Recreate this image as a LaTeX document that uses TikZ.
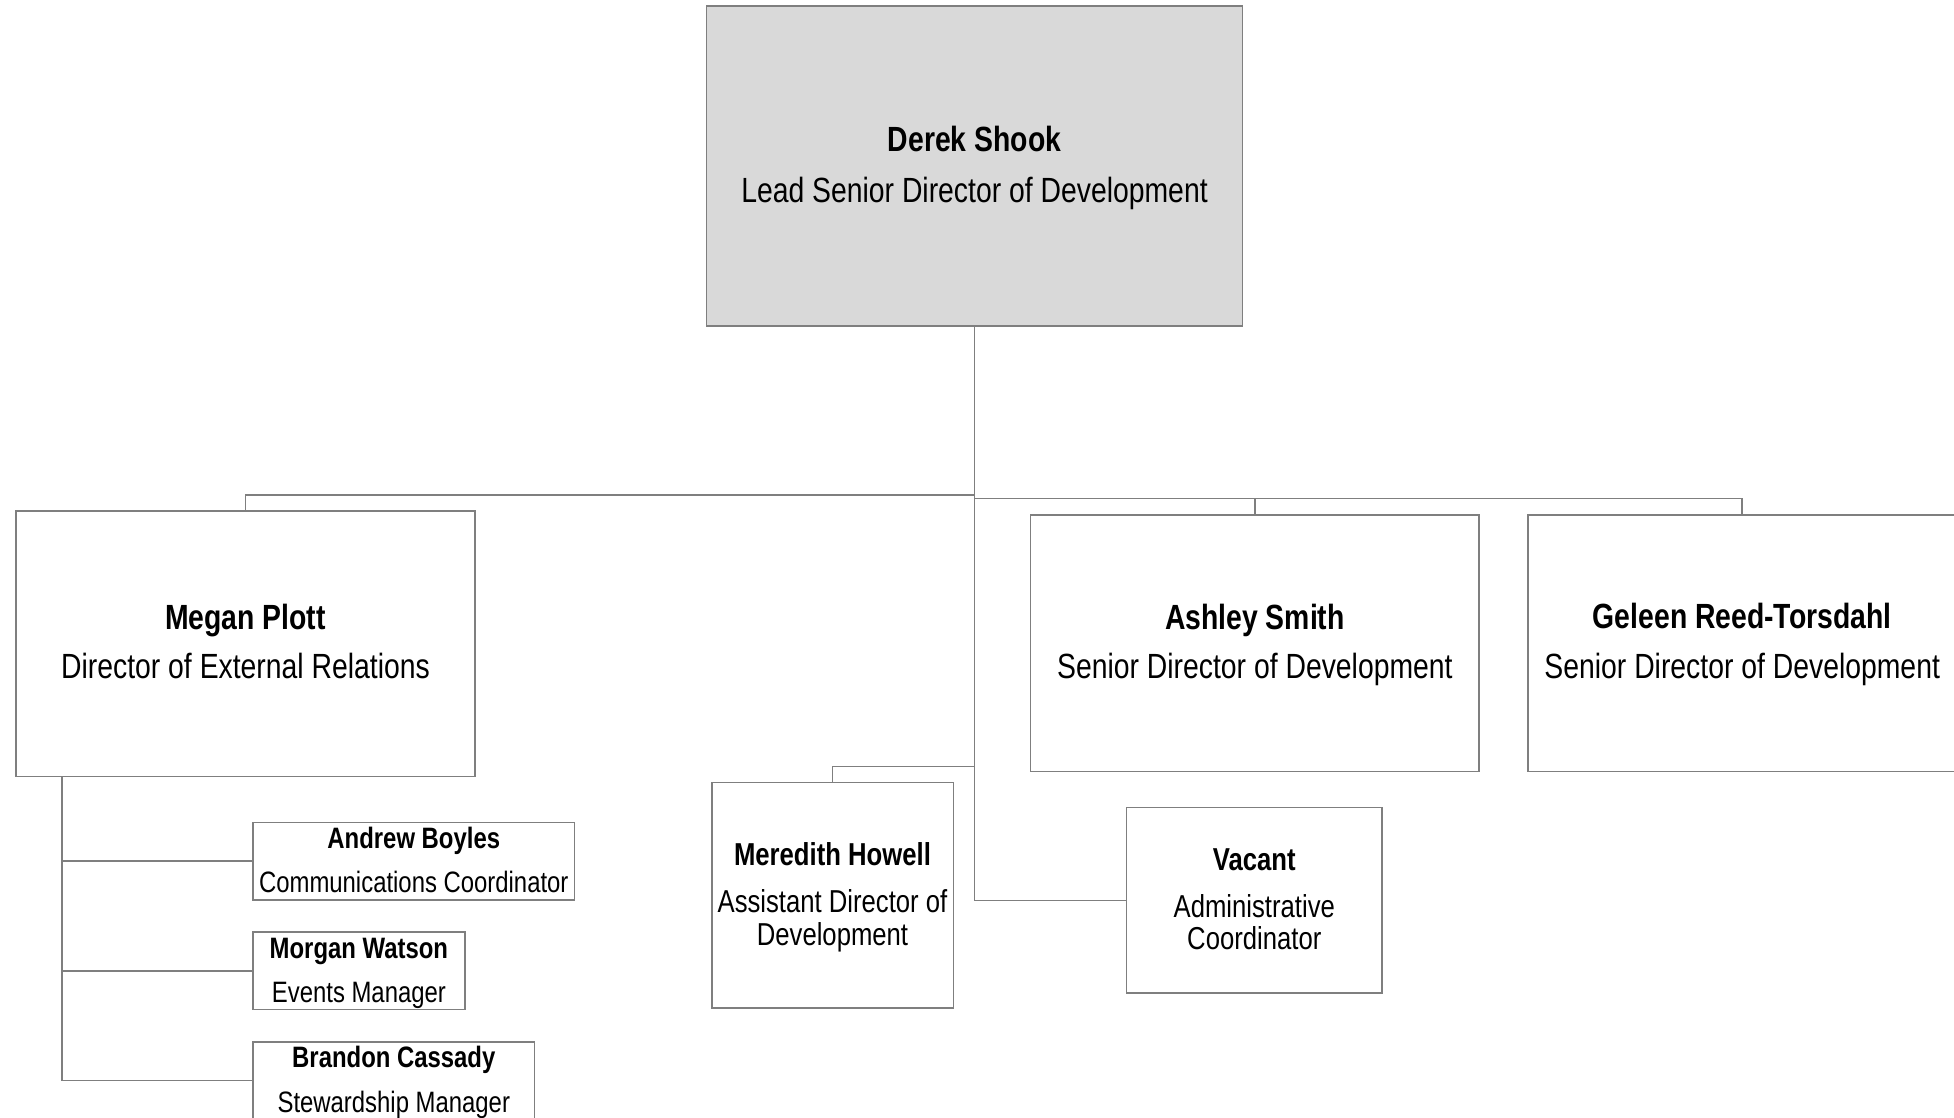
\documentclass[tikz,border=0pt]{standalone}
\usepackage{fontspec}
\setmainfont{Liberation Sans}[FakeStretch=0.81]
\begin{document}
\begin{tikzpicture}[x=1bp,y=-1bp,
  box/.style={draw=boxgray,line width=1.7bp,fill=white,inner sep=0pt},
  conn/.style={draw=boxgray,line width=1.7bp},
  big/.style={font=\fontsize{35bp}{40bp}\selectfont,anchor=base,inner sep=0pt},
  mid/.style={font=\fontsize{31.7bp}{36bp}\selectfont,anchor=base,inner sep=0pt},
  small/.style={font=\fontsize{29.5bp}{34bp}\selectfont,anchor=base,inner sep=0pt}]
\definecolor{boxgray}{HTML}{7F7F7F}
\definecolor{topfill}{HTML}{D9D9D9}
\useasboundingbox (0,0) rectangle (1954,1117);
% boxes
\node[box,fill=topfill,minimum width=536bp,minimum height=320bp] (derek) at (974.5,166.3) {};
\node[box,minimum width=458.6bp,minimum height=265.4bp] (megan) at (245.5,643.7) {};
\node[box,minimum width=448.6bp,minimum height=256.7bp] (ashley) at (1254.9,643) {};
\node[box,minimum width=428.6bp,minimum height=256.7bp] (geleen) at (1742.2,643) {};
\node[box,minimum width=321.5bp,minimum height=77.3bp] (andrew) at (413.8,861.2) {};
\node[box,minimum width=211.8bp,minimum height=77.2bp] (morgan) at (358.9,970.8) {};
\node[box,minimum width=281.6bp,minimum height=77.3bp] (brandon) at (393.8,1080.5) {};
\node[box,minimum width=241.7bp,minimum height=225.6bp] (meredith) at (832.5,895.4) {};
\node[box,minimum width=255.4bp,minimum height=185.7bp] (vacant) at (1254.3,900.4) {};
% connectors
\draw[conn] (derek.south) -- (derek.south |- vacant.west) -- (vacant.west);
\draw[conn] (derek.south |- 0,494.7) -| (megan.north);
\draw[conn] (derek.south |- 0,498.5) -| (geleen.north);
\draw[conn] (ashley.north |- 0,498.5) -- (ashley.north);
\draw[conn] (derek.south |- 0,766.4) -| (meredith.north);
\coordinate (spine) at (62.3,776.4);
\draw[conn] (megan.south -| spine) -- (brandon.west -| spine) -- (brandon.west);
\draw[conn] (andrew.west -| spine) -- (andrew.west);
\draw[conn] (morgan.west -| spine) -- (morgan.west);
% texts
\node[big] (derek-n) at (974.5,151.5) {\bfseries Derek Shook};
\node[big] (derek-t) at (974.5,202.3) {Lead Senior Director of Development};
\node[big] (megan-n) at (245.5,629.5) {\bfseries Megan Plott};
\node[big] (megan-t) at (245.5,678.5) {Director of External Relations};
\node[big] (ashley-n) at (1254.9,629.5) {\bfseries Ashley Smith};
\node[big] (ashley-t) at (1254.9,678.5) {Senior Director of Development};
\node[big] (geleen-n) at (1742.2,628.5) {\bfseries Geleen Reed-Torsdahl};
\node[big] (geleen-t) at (1742.2,678.5) {Senior Director of Development};
\node[small] (andrew-n) at (413.8,848.4) {\bfseries Andrew Boyles};
\node[small] (andrew-t) at (413.8,892.5) {Communications Coordinator};
\node[small] (morgan-n) at (358.9,958) {\bfseries Morgan Watson};
\node[small] (morgan-t) at (358.9,1002.5) {Events Manager};
\node[small] (brandon-n) at (393.8,1067.7) {\bfseries Brandon Cassady};
\node[small] (brandon-t) at (393.8,1112) {Stewardship Manager};
\node[mid] (meredith-n) at (832.5,865.3) {\bfseries Meredith Howell};
\node[mid] (meredith-t1) at (832.5,912) {Assistant Director of};
\node[mid] (meredith-t2) at (832.5,945.5) {Development};
\node[mid] (vacant-n) at (1254.3,870.4) {\bfseries Vacant};
\node[mid] (vacant-t1) at (1254.3,917) {Administrative};
\node[mid] (vacant-t2) at (1254.3,949.5) {Coordinator};
\end{tikzpicture}
\end{document}
